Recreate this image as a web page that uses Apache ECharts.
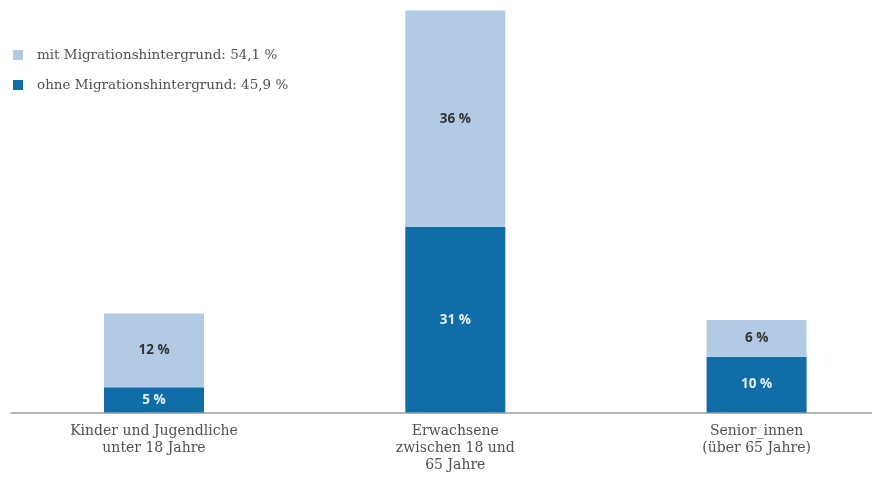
<!DOCTYPE html>
<html>
<head>
<meta charset="utf-8">
<script src="https://cdn.jsdelivr.net/npm/echarts@6/dist/echarts.min.js"></script>
<style>
    html, body { margin: 0; padding: 0; background: #ffffff; }
    #chart { width: 872px; height: 477px; }
</style>
</head>
<body>
<div id="chart"></div>
<script>
// Daten
const categories = ['Kinder und Jugendliche\nunter 18 Jahre', 'Erwachsene\nzwischen 18 und\n65 Jahre', 'Senior_innen\n(über 65 Jahre)']
const ohneValues = [4.2, 30.9, 9.3] // dunkelblau, unten
const mitValues = [12.3, 36.1, 6.1] // hellblau, oben
const ohneLabels = ['5 %', '31 %', '10 %']
const mitLabels = ['12 %', '36 %', '6 %']
const legendNames = ['mit Migrationshintergrund: 54,1 %', 'ohne Migrationshintergrund: 45,9 %']

const LIGHT = '#b3cae5'
const DARK = '#106da7'
const FONT = 'DejaVu Serif'

const chart = echarts.init(document.getElementById('chart'))
const option = {
    animation: false,
    legend: {
        data: legendNames,
        orient: 'vertical',
        left: 13,
        top: 48,
        padding: 0,
        itemWidth: 10,
        itemHeight: 10,
        itemGap: 16,
        icon: 'rect',
        textStyle: { color: '#505050', fontSize: 13.5, fontFamily: FONT, padding: [0, 0, 0, 9] },
    },
    grid: [
        { left: 3.35, width: 903.9, top: -7.5, height: 420, outerBoundsMode: 'none' },
        { left: 11, right: 0, top: -7.5, height: 420, outerBoundsMode: 'none' }, // nur für die Grundlinie
    ],
    xAxis: [
        {
            type: 'category',
            data: categories,
            gridIndex: 0,
            axisLine: { show: false },
            axisTick: { show: false },
            axisLabel: {
                color: '#505050',
                fontSize: 14,
                fontFamily: FONT,
                lineHeight: 17,
                margin: 10,
                interval: 0,
            },
        },
        {
            type: 'category',
            data: [''],
            gridIndex: 1,
            axisLine: { show: true, lineStyle: { color: '#9a9a9a', width: 1.5 } },
            axisTick: { show: false },
            axisLabel: { show: false },
        },
    ],
    yAxis: [
        { type: 'value', min: 0, max: 70, gridIndex: 0, show: false },
        { type: 'value', min: 0, max: 70, gridIndex: 1, show: false },
    ],
    series: [
        {
            name: legendNames[1],
            type: 'bar',
            stack: 'total',
            barWidth: 100,
            data: ohneValues,
            itemStyle: { color: DARK },
            label: {
                show: true,
                position: 'inside',
                formatter: p => ohneLabels[p.dataIndex],
                color: '#e6f0f8',
                fontSize: 13.5,
                fontWeight: 'bold',
                fontFamily: 'Open Sans',
            },
        },
        {
            name: legendNames[0],
            type: 'bar',
            stack: 'total',
            barWidth: 100,
            data: mitValues,
            itemStyle: { color: LIGHT },
            label: {
                show: true,
                position: 'inside',
                formatter: p => mitLabels[p.dataIndex],
                color: '#333333',
                fontSize: 13.5,
                fontWeight: 'bold',
                fontFamily: 'Open Sans',
            },
        },
    ],
}
chart.setOption(option)
</script>
</body>
</html>
